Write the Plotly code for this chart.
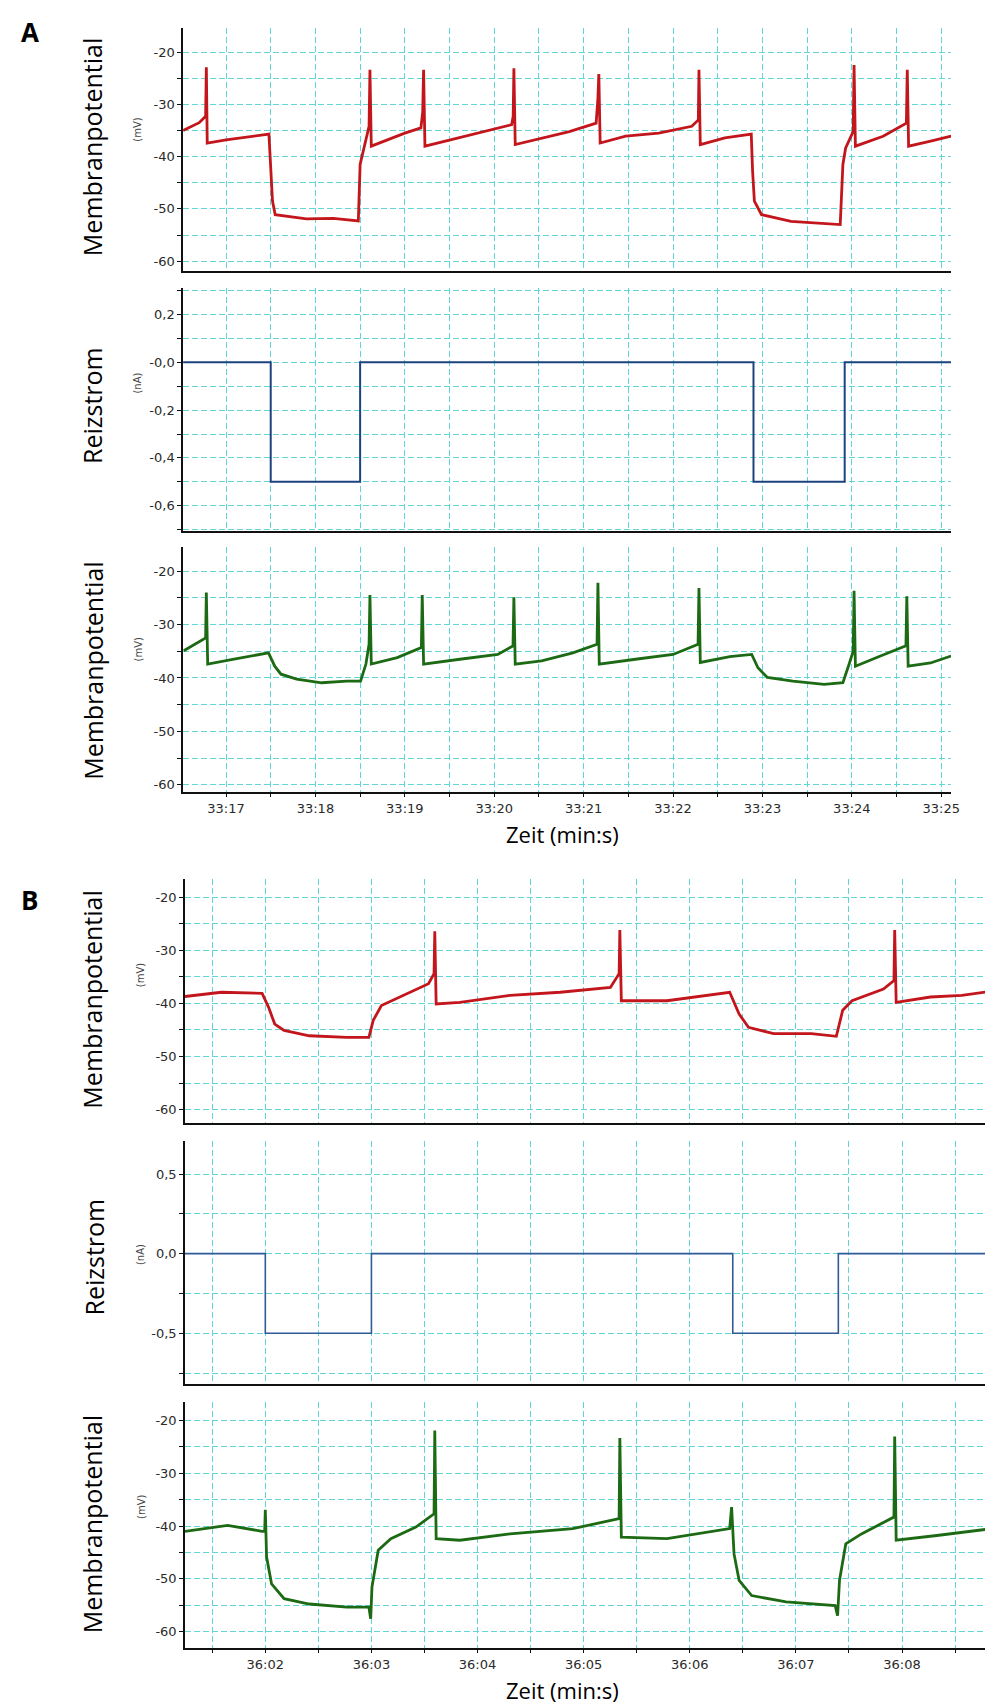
import plotly.graph_objects as go

W, H = 993, 1702

# ---------------- DATA ----------------
# Panel A: time in seconds after 33:00
a_label_secs = [17, 18, 19, 20, 21, 22, 23, 24, 25]
a_label_text = ["33:17", "33:18", "33:19", "33:20", "33:21", "33:22", "33:23", "33:24", "33:25"]

a_red_t = [16.52, 16.70, 16.772, 16.78, 16.79, 17.0, 17.48, 17.50, 17.52, 17.55, 17.9, 18.2, 18.48,
           18.50, 18.53, 18.60, 18.61, 18.625, 19.0, 19.18, 19.20, 19.21, 19.225, 19.735, 20.10,
           20.195, 20.212, 20.22, 20.235, 20.55, 20.84, 21.14, 21.16, 21.17, 21.185, 21.47, 21.84,
           22.21, 22.283, 22.29, 22.305, 22.58, 22.875, 22.89, 22.91, 22.99, 23.32, 23.87, 23.90,
           23.93, 24.015, 24.025, 24.04, 24.35, 24.61, 24.62, 24.635, 24.87, 25.11]
a_red_v = [-35.0, -33.5, -32.3, -22.9, -37.4, -36.8, -35.7, -42.2, -48.5, -51.1, -51.9, -51.8, -52.3,
           -41.5, -39.3, -34.2, -23.4, -38.0, -35.5, -34.5, -31.5, -23.4, -38.0, -35.8, -34.2,
           -33.9, -32.3, -23.1, -37.7, -36.4, -35.2, -33.6, -28.8, -24.2, -37.4, -36.1, -35.5,
           -34.2, -33.0, -23.4, -37.7, -36.4, -35.7, -42.8, -48.5, -51.1, -52.4, -53.0, -41.5,
           -38.4, -35.2, -22.5, -38.0, -36.1, -33.6, -23.4, -38.0, -37.1, -36.1]

a_cur_t = [16.52, 17.50, 18.50, 22.90, 23.92, 25.11]
a_cur_i = [0.0, -0.5, 0.0, -0.5, 0.0, 0.0]

a_green_t = [16.527, 16.772, 16.78, 16.795, 17.09, 17.475, 17.545, 17.615, 17.79, 18.07, 18.35, 18.505,
             18.565, 18.60, 18.61, 18.625, 18.915, 19.185, 19.195, 19.21, 19.615, 20.04, 20.21, 20.22,
             20.235, 20.53, 20.88, 21.15, 21.16, 21.175, 21.58, 22.0, 22.28, 22.29, 22.305, 22.635,
             22.88, 22.95, 23.055, 23.34, 23.69, 23.90, 23.97, 24.015, 24.025, 24.04, 24.32, 24.605,
             24.615, 24.63, 24.88, 25.11]
a_green_v = [-34.9, -32.5, -24.0, -37.4, -36.5, -35.3, -37.8, -39.3, -40.2, -40.9, -40.6, -40.6,
             -37.4, -33.7, -24.5, -37.4, -36.2, -34.3, -24.5, -37.4, -36.5, -35.6, -34.0, -24.9,
             -37.4, -36.8, -35.3, -33.7, -22.2, -37.4, -36.5, -35.6, -33.7, -23.2, -37.1, -36.0,
             -35.6, -38.1, -39.9, -40.6, -41.2, -40.9, -37.4, -35.0, -23.7, -37.8, -35.9, -34.0,
             -24.7, -37.8, -37.2, -35.9]

# Panel B: time in seconds after 36:00
b_label_secs = [2, 3, 4, 5, 6, 7, 8, 9]
b_label_text = ["36:02", "36:03", "36:04", "36:05", "36:06", "36:07", "36:08", "36:09"]

b_red_t = [1.243, 1.586, 1.970, 2.030, 2.089, 2.177, 2.414, 2.769, 2.976, 3.017, 3.094, 3.301, 3.538,
           3.590, 3.597, 3.610, 3.833, 4.306, 4.779, 5.252, 5.334, 5.341, 5.355, 5.785, 6.376, 6.465,
           6.553, 6.790, 7.145, 7.381, 7.441, 7.529, 7.825, 7.924, 7.931, 7.945, 8.268, 8.564, 8.848]
b_red_v = [-38.7, -37.9, -38.1, -40.7, -43.9, -45.1, -46.1, -46.4, -46.4, -43.2, -40.4, -38.5, -36.3,
           -34.4, -26.4, -40.1, -39.8, -38.5, -37.9, -37.0, -34.4, -26.2, -39.5, -39.5, -37.9, -42.0,
           -44.5, -45.7, -45.7, -46.2, -41.3, -39.5, -37.3, -35.7, -26.2, -39.8, -38.8, -38.5, -37.7]

b_cur_t = [1.243, 2.0, 3.0, 6.405, 7.40, 8.848]
b_cur_i = [0.0, -0.5, 0.0, -0.5, 0.0, 0.0]

b_green_t = [1.243, 1.645, 1.970, 1.994, 2.0, 2.012, 2.059, 2.177, 2.414, 2.769, 2.976, 2.993, 3.005,
             3.064, 3.183, 3.419, 3.590, 3.597, 3.610, 3.833, 4.306, 4.898, 5.334, 5.341, 5.355,
             5.785, 6.376, 6.394, 6.417, 6.465, 6.583, 6.908, 7.370, 7.393, 7.411, 7.470, 7.618,
             7.924, 7.931, 7.945, 8.328, 8.848]
b_green_v = [-41.0, -39.9, -41.0, -41.0, -36.9, -45.9, -51.0, -53.8, -54.8, -55.4, -55.4, -57.6, -51.6,
             -44.6, -42.4, -40.2, -37.7, -21.9, -42.4, -42.7, -41.5, -40.5, -38.6, -23.3, -42.1,
             -42.4, -40.5, -36.4, -45.3, -50.3, -53.2, -54.4, -55.1, -57.0, -50.3, -43.4, -41.5,
             -38.3, -23.0, -42.7, -41.8, -40.5]

mv_tick_vals = [-60, -50, -40, -30, -20]
mv_tick_text = ["-60", "-50", "-40", "-30", "-20"]
a_na_tick_vals = [-0.6, -0.4, -0.2, 0.0, 0.2]
a_na_tick_text = ["-0,6", "-0,4", "-0,2", "-0,0", "0,2"]
b_na_tick_vals = [-0.5, 0.0, 0.5]
b_na_tick_text = ["-0,5", "0,0", "0,5"]

# ---------------- STYLE ----------------
GRID = "rgb(96,214,214)"
GDASH = "6px,3px"
RED = "#c3161c"
GREEN = "#1d6a14"
BLUE_A = "#1c437f"
BLUE_B = "#2e5a98"
TICKFONT = dict(family="DejaVu Sans", size=13, color="#2a2a2a")
LABELFONT = dict(family="Open Sans", size=25, color="#000")
UNITFONT = dict(family="DejaVu Sans", size=10, color="#444")


def xd(p0, p1):
    return [p0 / W, p1 / W]


def yd(p0, p1):
    return [1 - p1 / H, 1 - p0 / H]


def half_ticks(lo, hi, label_secs, label_text):
    vals, texts = [], []
    k = int(lo * 2) - 1
    while k / 2 <= hi + 0.5:
        v = k / 2
        vals.append(v)
        if v in label_secs:
            texts.append(label_text[label_secs.index(v)])
        else:
            texts.append("")
        k += 1
    return vals, texts


def sub_ticks(vals, texts, step, lo, hi):
    allv, allt = [], []
    n0 = int(round(lo / step)) - 1
    n1 = int(round(hi / step)) + 1
    for n in range(n0, n1 + 1):
        v = round(n * step, 4)
        allv.append(v)
        t = ""
        for vv, tt in zip(vals, texts):
            if abs(vv - v) < 1e-6:
                t = tt
        allt.append(t)
    return allv, allt


def xaxis(domain, rng, anchor, vals, texts, show_labels):
    return dict(domain=domain, range=rng, anchor=anchor, showline=True, linecolor="#111",
                linewidth=1.5, mirror=False, showgrid=True, gridcolor=GRID, gridwidth=1,
                griddash=GDASH, zeroline=False, tickmode="array", tickvals=vals, ticktext=texts,
                ticks="outside" if show_labels else "", ticklen=4, tickcolor="#111",
                showticklabels=show_labels, tickfont=TICKFONT, fixedrange=True)


def yaxis(domain, rng, anchor, vals, texts):
    return dict(domain=domain, range=rng, anchor=anchor, showline=True, linecolor="#111",
                linewidth=1.5, mirror=False, showgrid=True, gridcolor=GRID, gridwidth=1,
                griddash=GDASH, zeroline=False, tickmode="array", tickvals=vals, ticktext=texts,
                ticks="outside", ticklen=4, tickcolor="#111", tickfont=TICKFONT, fixedrange=True)


a_xr = [16.52, 25.11]
b_xr = [1.243, 8.848]
a_xv, a_xt = half_ticks(a_xr[0], a_xr[1], a_label_secs, a_label_text)
b_xv, b_xt = half_ticks(b_xr[0], b_xr[1], b_label_secs, b_label_text)
a_xt_blank = ["" for _ in a_xt]
b_xt_blank = ["" for _ in b_xt]

r1 = [-61.9, -15.4]
r2 = [-0.706, 0.312]
r3 = [-61.25, -15.5]
r4 = [-62.6, -16.6]
r5 = [-0.822, 0.71]
r6 = [-63.1, -16.5]

mv1 = sub_ticks(mv_tick_vals, mv_tick_text, 5, r1[0], r1[1])
mv3 = sub_ticks(mv_tick_vals, mv_tick_text, 5, r3[0], r3[1])
mv4 = sub_ticks(mv_tick_vals, mv_tick_text, 5, r4[0], r4[1])
mv6 = sub_ticks(mv_tick_vals, mv_tick_text, 5, r6[0], r6[1])
na2 = sub_ticks(a_na_tick_vals, a_na_tick_text, 0.1, r2[0], r2[1])
na5 = sub_ticks(b_na_tick_vals, b_na_tick_text, 0.25, r5[0], r5[1])

A_X = xd(176.7, 951.7)
B_X = xd(178.6, 993)

TW = 2.8
fig = go.Figure()
fig.add_trace(go.Scatter(x=a_red_t, y=a_red_v, mode="lines", line=dict(color=RED, width=TW),
                         xaxis="x", yaxis="y"))
fig.add_trace(go.Scatter(x=a_cur_t, y=a_cur_i, mode="lines", line=dict(color=BLUE_A, width=2.0, shape="hv"),
                         xaxis="x2", yaxis="y2"))
fig.add_trace(go.Scatter(x=a_green_t, y=a_green_v, mode="lines", line=dict(color=GREEN, width=TW),
                         xaxis="x3", yaxis="y3"))
fig.add_trace(go.Scatter(x=b_red_t, y=b_red_v, mode="lines", line=dict(color=RED, width=TW),
                         xaxis="x4", yaxis="y4"))
fig.add_trace(go.Scatter(x=b_cur_t, y=b_cur_i, mode="lines", line=dict(color=BLUE_B, width=1.6, shape="hv"),
                         xaxis="x5", yaxis="y5"))
fig.add_trace(go.Scatter(x=b_green_t, y=b_green_v, mode="lines", line=dict(color=GREEN, width=TW),
                         xaxis="x6", yaxis="y6"))

layout = dict(
    width=W, height=H, margin=dict(l=0, r=0, t=0, b=0),
    paper_bgcolor="white", plot_bgcolor="white", showlegend=False, hovermode=False,
    xaxis=xaxis(A_X, a_xr, "y", a_xv, a_xt_blank, False),
    xaxis2=xaxis(A_X, a_xr, "y2", a_xv, a_xt_blank, False),
    xaxis3=xaxis(A_X, a_xr, "y3", a_xv, a_xt, True),
    xaxis4=xaxis(B_X, b_xr, "y4", b_xv, b_xt_blank, False),
    xaxis5=xaxis(B_X, b_xr, "y5", b_xv, b_xt_blank, False),
    xaxis6=xaxis(B_X, b_xr, "y6", b_xv, b_xt, True),
    yaxis=yaxis(yd(20, 263.3), r1, "x", mv1[0], mv1[1]),
    yaxis2=yaxis(yd(280, 523.3), r2, "x2", na2[0], na2[1]),
    yaxis3=yaxis(yd(539.3, 784), r3, "x3", mv3[0], mv3[1]),
    yaxis4=yaxis(yd(871.7, 1116), r4, "x4", mv4[0], mv4[1]),
    yaxis5=yaxis(yd(1133.3, 1377.3), r5, "x5", na5[0], na5[1]),
    yaxis6=yaxis(yd(1395, 1640.7), r6, "x6", mv6[0], mv6[1]),
)


def ann(text, px, py, font, angle=0):
    return dict(text=text, xref="paper", yref="paper", x=px / W, y=1 - py / H,
                xanchor="center", yanchor="middle", showarrow=False, font=font, textangle=angle)


annotations = [
    ann("<b>A</b>", 22, 24, dict(family="Open Sans", size=26, color="#000")),
    ann("<b>B</b>", 22, 893, dict(family="Open Sans", size=26, color="#000")),
    ann("Membranpotential", 85, 139, LABELFONT, -90),
    ann("(mV)", 131, 122, UNITFONT, -90),
    ann("Reizstrom", 85, 398, LABELFONT, -90),
    ann("(nA)", 131, 375, UNITFONT, -90),
    ann("Membranpotential", 85, 663, LABELFONT, -90),
    ann("(mV)", 132, 642, UNITFONT, -90),
    ann("Zeit (min:s)", 560, 826, dict(family="Open Sans", size=22, color="#000")),
    ann("Membranpotential", 85, 992, LABELFONT, -90),
    ann("(mV)", 134, 968, UNITFONT, -90),
    ann("Reizstrom", 87, 1250, LABELFONT, -90),
    ann("(nA)", 133, 1247, UNITFONT, -90),
    ann("Membranpotential", 85, 1517, LABELFONT, -90),
    ann("(mV)", 134, 1500, UNITFONT, -90),
    ann("Zeit (min:s)", 560, 1683, dict(family="Open Sans", size=22, color="#000")),
]
layout["annotations"] = annotations

fig.update_layout(**layout)
fig.write_html("out.html")
